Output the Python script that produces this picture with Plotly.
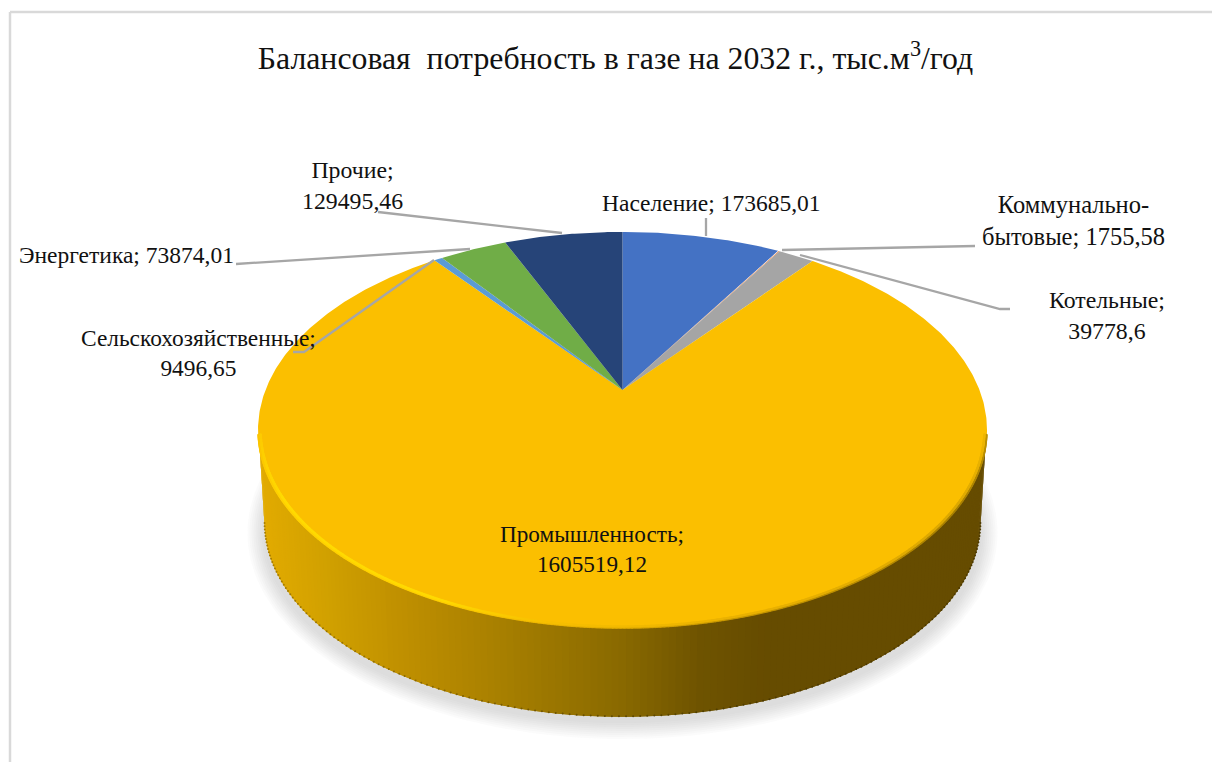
import numpy as np
import plotly.graph_objects as go

# Gas demand by consumer group, thousand m3 per year
categories = ["Население", "Коммунально-бытовые", "Котельные", "Промышленность",
              "Сельскохозяйственные", "Энергетика", "Прочие"]
values = [173685.01, 1755.58, 39778.6, 1605519.12, 9496.65, 73874.01, 129495.46]
slice_colors = ["#4472C4", "#ED7D31", "#A5A5A5", "#FBBF00", "#5B9BD5", "#70AD47", "#264478"]
title_text = "Балансовая  потребность в газе на 2032 г., тыс.м<sup>3</sup>/год"

WIDTH, HEIGHT = 1212, 762
FONT = "Liberation Serif"

# Tilted-disc projection, in screen pixels
APEX_X, APEX_Y = 622.5, 390.0
TILT = 0.202
SCALE_X, SCALE_Y = 357.0, 190.0
WALL_DROP = 93


def project(theta, scale=1.0, dy=0.0):
    """Point on the disc rim; theta is measured clockwise from the top."""
    depth = 1 + TILT * np.cos(theta)
    return (APEX_X + scale * SCALE_X * np.sin(theta) / depth,
            APEX_Y + dy - scale * SCALE_Y * np.cos(theta) / depth)


def blend(pos, stops, colors):
    """Piecewise-linear colour ramp, returned as rgb() strings."""
    rgb = np.array([[int(c[i:i + 2], 16) for i in (1, 3, 5)] for c in colors], float)
    ch = [np.interp(pos, stops, rgb[:, k]) for k in range(3)]
    return [f"rgb({int(r)},{int(g)},{int(b)})" for r, g, b in zip(*ch)]


fractions = np.array(values) / sum(values)
edges = np.concatenate([[0.0], np.cumsum(fractions)]) * 2 * np.pi

fig = go.Figure()


def polygon(x, y, color, opacity=1.0):
    fig.add_trace(go.Scatter(x=x, y=y, mode="lines", fill="toself", fillcolor=color,
                             line=dict(width=0), opacity=opacity, hoverinfo="skip",
                             showlegend=False))


# Soft drop shadow beneath the disc
ring = np.linspace(0, 2 * np.pi, 240)
for grow in np.linspace(16, 0, 9):
    sx = APEX_X + (359 + grow) * np.cos(ring)
    sy = 533 + (190 + grow) * np.sin(ring)
    polygon(sx, sy, "#8c8c8c", 0.035)

# Side wall of the largest slice, shaded from left to right
wall_stops = [262, 330, 400, 500, 620, 700, 770, 985]
wall_cols = ["#E2AB00", "#D0A000", "#C09000", "#A88000", "#8A6A00", "#6F5400", "#664C00", "#664C00"]
wall_theta = np.radians(np.linspace(102, 258, 170))
top_x, top_y = project(wall_theta, scale=0.998)
low_x, low_y = project(wall_theta, scale=0.982, dy=WALL_DROP)
strip_cols = blend((top_x[:-1] + top_x[1:]) / 2, wall_stops, wall_cols)
for i, col in enumerate(strip_cols):
    j = min(i + 2, len(top_x) - 1)
    polygon([top_x[i], top_x[j], low_x[j], low_x[i]],
            [top_y[i], top_y[j], low_y[j], low_y[i]], col)

# Darker lower edge of the wall
edge_cols = blend(low_x, wall_stops, ["#A87E00", "#9A7400", "#8C6A00", "#7A5C00", "#624A00", "#504000", "#4C3900", "#4C3900"])
fig.add_trace(go.Scatter(x=low_x, y=low_y - 0.5, mode="markers",
                         marker=dict(size=2, color=edge_cols, line=dict(width=0)),
                         hoverinfo="skip", showlegend=False))

# Top face: one wedge per category
for start, stop, color in zip(edges[:-1], edges[1:], slice_colors):
    arc = np.linspace(start, stop, max(3, int((stop - start) * 120)))
    ax, ay = project(arc)
    polygon(np.concatenate([[APEX_X], ax]), np.concatenate([[APEX_Y], ay]), color)

# Bevel along the front rim of the top face
rim_theta = np.radians(np.linspace(103, 257, 900))
rim_deg = np.degrees(rim_theta)
bevel_stops = [103, 125, 165, 190, 205, 240, 257]
for scale, size, cols in [
    (0.999, 2.2, ["#C09400", "#A88000", "#C89800", "#F0B800", "#FFD000", "#FFD000", "#FBC400"]),
    (0.993, 2.4, ["#F0B800", "#DCA800", "#EAB200", "#F8C000", "#FFDA00", "#FFDA00", "#FDCB00"]),
]:
    rx, ry = project(rim_theta, scale=scale)
    fig.add_trace(go.Scatter(x=rx, y=ry, mode="markers",
                             marker=dict(size=size, color=blend(rim_deg, bevel_stops, cols), line=dict(width=0)),
                             hoverinfo="skip", showlegend=False))

# Leader lines running from the rim to the data labels
leaders = [
    ([378, 562], [212, 233]),
    ([236, 470], [264, 249]),
    ([293, 304, 434], [352, 352, 260]),
    ([706, 706], [218, 236]),
    ([975, 782], [246, 250]),
    ([1010, 1000, 800], [309, 309, 255]),
]
for lx, ly in leaders:
    fig.add_trace(go.Scatter(x=lx, y=ly, mode="lines", line=dict(color="#A6A6A6", width=2.3),
                             hoverinfo="skip", showlegend=False))

# Data labels: category text, separator, centre in pixels, font size
label_layout = [
    ("Население", "; ", 711, 203, 23.5),
    ("Коммунально-<br>бытовые", "; ", 1073, 220.5, 24.5),
    ("Котельные", ";<br>", 1107, 315, 23.8),
    ("Промышленность", ";<br>", 592, 549, 23.2),
    ("Сельскохозяйственные", ";<br>", 198, 353, 23.4),
    ("Энергетика", "; ", 126, 255, 23.5),
    ("Прочие", ";<br>", 352, 185, 23.8),
]
for cat_text, sep, cx, cy, size in label_layout:
    v = values[categories.index(cat_text.replace("<br>", ""))]
    number = str(v).replace(".", ",")
    fig.add_annotation(x=cx, y=cy, xref="x", yref="y", text=f"{cat_text}{sep}{number}",
                       showarrow=False, xanchor="center", yanchor="middle",
                       font=dict(family=FONT, size=size, color="#111111"))

fig.update_layout(
    width=WIDTH, height=HEIGHT,
    margin=dict(l=0, r=0, t=0, b=0),
    paper_bgcolor="white", plot_bgcolor="white",
    showlegend=False,
    title=dict(text=title_text, x=615.5 / WIDTH, y=1 - 58 / HEIGHT, xanchor="center", yanchor="middle",
               xref="paper", yref="paper", font=dict(family=FONT, size=31.8, color="#111111")),
    xaxis=dict(range=[0, WIDTH], visible=False, fixedrange=True),
    yaxis=dict(range=[HEIGHT, 0], visible=False, fixedrange=True),
    shapes=[
        dict(type="line", xref="x", yref="y", x0=10, x1=10, y0=12, y1=762,
             line=dict(color="#D9D9D9", width=2.5), layer="below"),
        dict(type="line", xref="x", yref="y", x0=10, x1=WIDTH, y0=12, y1=12,
             line=dict(color="#D9D9D9", width=2.5), layer="below"),
    ],
)

fig.write_html("out.html")
